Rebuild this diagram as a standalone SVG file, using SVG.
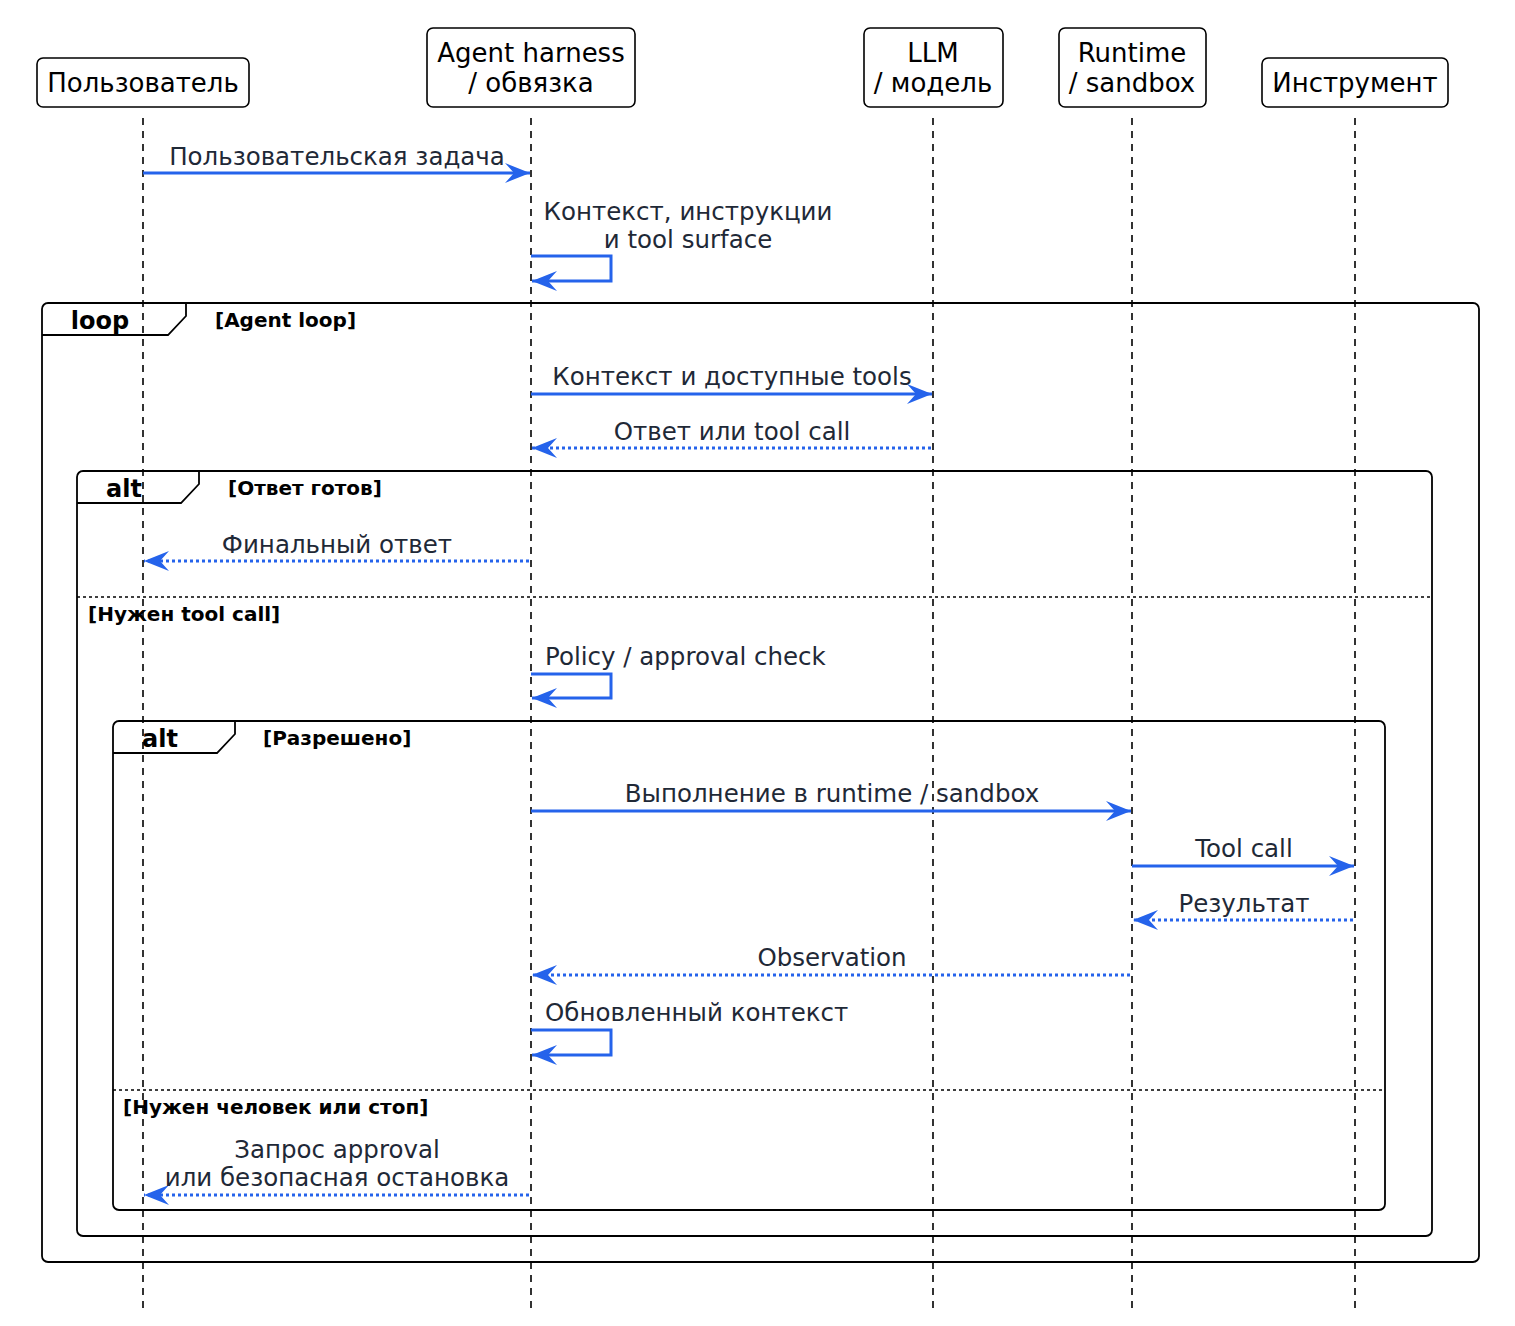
<svg xmlns="http://www.w3.org/2000/svg" width="1515" height="1326" viewBox="0 0 1515 1326">
<style>
.pbox{fill:#fff;stroke:#000;stroke-width:1.6}
.ptxt{font-family:"DejaVu Sans",sans-serif;font-size:26px;fill:#000;text-anchor:middle}
.life{stroke:#000;stroke-width:1.6;stroke-dasharray:7,6;fill:none}
.frame{fill:none;stroke:#000;stroke-width:1.8}
.sep{stroke:#000;stroke-width:1.4;stroke-dasharray:3,3}
.flbl{font-family:"DejaVu Sans",sans-serif;font-weight:bold;font-size:24px;fill:#000;text-anchor:middle}
.fcond{font-family:"DejaVu Sans",sans-serif;font-weight:bold;font-size:20px;fill:#000}
.msg{stroke:#2563eb;stroke-width:3;fill:none;marker-end:url(#ah)}
.dot{stroke-dasharray:3,3}
.mtxt{font-family:"DejaVu Sans",sans-serif;font-size:24.5px;fill:#1f2937;text-anchor:middle}
.mtxtl{font-family:"DejaVu Sans",sans-serif;font-size:24.5px;fill:#1f2937}
</style>
<defs>
<marker id="ah" viewBox="-27 -12 29 24" markerWidth="29" markerHeight="24" refX="0" refY="0" orient="auto" markerUnits="userSpaceOnUse">
<path d="M0,0 L-25,-10 L-16,0 L-25,10 Z" fill="#2563eb" stroke="none"/>
</marker>
</defs>
<rect width="1515" height="1326" fill="#fff"/>
<g id="lifelines">
<line class="life" x1="143" y1="118" x2="143" y2="1308"/>
<line class="life" x1="531" y1="118" x2="531" y2="1308"/>
<line class="life" x1="933" y1="118" x2="933" y2="1308"/>
<line class="life" x1="1132" y1="118" x2="1132" y2="1308"/>
<line class="life" x1="1355" y1="118" x2="1355" y2="1308"/>
</g>
<g id="p-user"><rect class="pbox" x="37" y="58" width="212" height="49" rx="6"/><text class="ptxt" x="143" y="92">Пользователь</text></g>
<g id="p-agent"><rect class="pbox" x="427" y="28" width="208" height="79" rx="6"/><text class="ptxt" x="531" y="62">Agent harness</text><text class="ptxt" x="531" y="92">/ обвязка</text></g>
<g id="p-llm"><rect class="pbox" x="864" y="28" width="139" height="79" rx="6"/><text class="ptxt" x="933" y="62">LLM</text><text class="ptxt" x="933" y="92">/ модель</text></g>
<g id="p-runtime"><rect class="pbox" x="1059" y="28" width="147" height="79" rx="6"/><text class="ptxt" x="1132" y="62">Runtime</text><text class="ptxt" x="1132" y="92">/ sandbox</text></g>
<g id="p-tool"><rect class="pbox" x="1262" y="58" width="186" height="49" rx="6"/><text class="ptxt" x="1355" y="92">Инструмент</text></g>
<g id="frames">
<g id="f-loop">
<rect class="frame" x="42" y="303" width="1437" height="959" rx="6"/>
<path class="frame" d="M42,335 L168,335 L186,316 L186,303"/>
<text class="flbl" x="100" y="329">loop</text>
<text class="fcond" x="215" y="327">[Agent loop]</text>
</g>
<g id="f-alt1">
<rect class="frame" x="77" y="471" width="1355" height="765" rx="6"/>
<path class="frame" d="M77,503 L181,503 L199,484 L199,471"/>
<text class="flbl" x="124" y="497">alt</text>
<text class="fcond" x="228" y="495">[Ответ готов]</text>
<line class="sep" x1="77" y1="597" x2="1432" y2="597"/>
<text class="fcond" x="88" y="621">[Нужен tool call]</text>
</g>
<g id="f-alt2">
<rect class="frame" x="113" y="721" width="1272" height="489" rx="6"/>
<path class="frame" d="M113,753 L217,753 L235,734 L235,721"/>
<text class="flbl" x="160" y="747">alt</text>
<text class="fcond" x="263" y="745">[Разрешено]</text>
<line class="sep" x1="113" y1="1090" x2="1385" y2="1090"/>
<text class="fcond" x="123" y="1114">[Нужен человек или стоп]</text>
</g>
</g>
<g id="connectors">
<line class="msg" x1="143" y1="173" x2="530" y2="173"/>
<polyline class="msg" points="531,256 611,256 611,281 532,281"/>
<line class="msg" x1="531" y1="394" x2="932" y2="394"/>
<line class="msg dot" x1="931" y1="448" x2="532" y2="448"/>
<line class="msg dot" x1="529" y1="561" x2="144" y2="561"/>
<polyline class="msg" points="531,674 611,674 611,698 532,698"/>
<line class="msg" x1="531" y1="811" x2="1131" y2="811"/>
<line class="msg" x1="1132" y1="866" x2="1354" y2="866"/>
<line class="msg dot" x1="1353" y1="920" x2="1133" y2="920"/>
<line class="msg dot" x1="1130" y1="975" x2="532" y2="975"/>
<polyline class="msg" points="531,1030 611,1030 611,1055 532,1055"/>
<line class="msg dot" x1="529" y1="1195" x2="144" y2="1195"/>
</g>
<g id="labels">
<text class="mtxt" x="337" y="165">Пользовательская задача</text>
<text class="mtxt" x="688" y="220">Контекст, инструкции</text>
<text class="mtxt" x="688" y="248">и tool surface</text>
<text class="mtxt" x="732" y="385">Контекст и доступные tools</text>
<text class="mtxt" x="732" y="440">Ответ или tool call</text>
<text class="mtxt" x="337" y="553">Финальный ответ</text>
<text class="mtxtl" x="545" y="665">Policy / approval check</text>
<text class="mtxt" x="832" y="802">Выполнение в runtime / sandbox</text>
<text class="mtxt" x="1244" y="857">Tool call</text>
<text class="mtxt" x="1244" y="912">Результат</text>
<text class="mtxt" x="832" y="966">Observation</text>
<text class="mtxtl" x="545" y="1021">Обновленный контекст</text>
<text class="mtxt" x="337" y="1158">Запрос approval</text>
<text class="mtxt" x="337" y="1186">или безопасная остановка</text>
</g>
</svg>
